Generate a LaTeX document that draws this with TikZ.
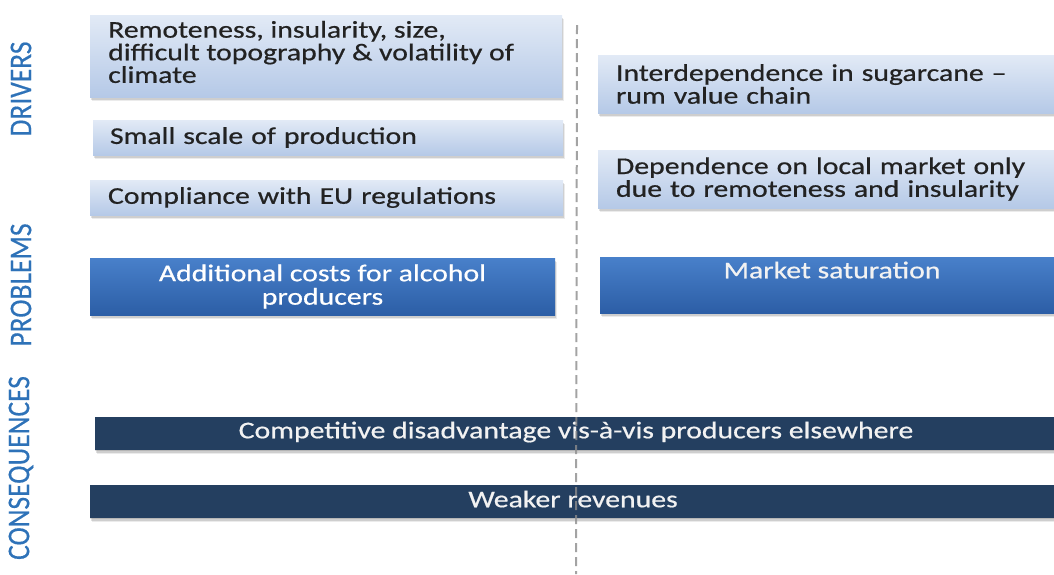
\documentclass[tikz,border=0pt]{standalone}
\usepackage{fontspec}
\setmainfont{Carlito}[FakeStretch=1.24,FakeBold=0.6]
\newfontfamily\labelfont{Carlito}[FakeBold=0.4]
\usetikzlibrary{shadows}
\definecolor{lighttop}{RGB}{226,234,246}
\definecolor{lightbot}{RGB}{181,201,231}
\definecolor{midtop}{RGB}{72,128,202}
\definecolor{midbot}{RGB}{44,94,166}
\definecolor{navy}{RGB}{36,63,96}
\definecolor{lblblue}{RGB}{46,114,184}
\definecolor{txtdark}{RGB}{34,34,34}
\definecolor{dashgray}{RGB}{140,140,140}
\tikzset{
  softshadow/.style={
    general shadow={shadow xshift=2pt, shadow yshift=-4pt, fill=black, opacity=.08},
    general shadow={shadow xshift=1pt, shadow yshift=-2.5pt, fill=black, opacity=.12},
    general shadow={shadow xshift=0pt, shadow yshift=-1pt, fill=black, opacity=.12}},
  lightbox/.style={softshadow, rectangle, inner ysep=0pt, top color=lighttop, bottom color=lightbot,
    draw=none, text=txtdark, align=left, font=\fontsize{24}{22.8}\selectfont},
  plaintext/.style={text=txtdark, align=left, font=\fontsize{24}{22.6}\selectfont, inner sep=0pt},
  midbox/.style={softshadow, rectangle, inner sep=0pt, top color=midtop, bottom color=midbot,
    draw=none, text=white, align=center, font=\fontsize{24}{23.5}\selectfont},
  navybox/.style={softshadow, rectangle, inner sep=0pt, fill=navy, draw=none},
  boxtext/.style={text=white!95!black, font=\fontsize{24}{23}\selectfont, inner sep=0pt},
  sidelabel/.style={rotate=90, text=lblblue, font=\labelfont\fontsize{27.5}{27.5}\selectfont, inner sep=0pt},
  divider/.style={draw=dashgray, line width=2pt, dash pattern=on 9pt off 5pt, opacity=.8}
}
\begin{document}
\begin{tikzpicture}[x=1pt,y=-1pt]
\useasboundingbox (0,0) rectangle (1054,574);
% drivers (left)
\node[lightbox, minimum width=472, minimum height=82] (d1) at (326,56) {};
\node[plaintext, anchor=west] (d1t) at (108,52)
  {Remoteness, insularity, size,\\difficult topography \& volatility of\\climate};
\node[lightbox, minimum width=470, minimum height=35, inner xsep=17, text width=436] (d2) at (328,137.5)
  {Small scale of production};
\node[lightbox, minimum width=473, minimum height=35, inner xsep=18, text width=437] (d3) at (326.5,197.5)
  {Compliance with EU regulations};
% drivers (right)
\node[lightbox, minimum width=472, minimum height=58, inner xsep=18, text width=436] (d4) at (834,84)
  {Interdependence in sugarcane --\\rum value chain};
\node[lightbox, minimum width=472, minimum height=58, inner xsep=18, text width=436] (d5) at (834,179)
  {Dependence on local market only\\due to remoteness and insularity};
% problems
\node[midbox, minimum width=465, minimum height=57] (p1) at (322.5,286.5)
  {Additional costs for alcohol\\producers};
\node[midbox, minimum width=464, minimum height=56] (p2) at (832,285) {};
\node[boxtext] (p2t) at (832,270) {Market saturation};
% consequences
\node[navybox, minimum width=962, minimum height=33] (c1) at (576,433.5) {};
\node[boxtext] (c1t) at (576,432) {Competitive disadvantage vis-à-vis producers elsewhere};
\node[navybox, minimum width=968, minimum height=33] (c2) at (574,501.5) {};
\node[boxtext] (c2t) at (573,499) {Weaker revenues};
% divider
\coordinate (dtop) at (577,25);
\coordinate (dbot) at (576,574);
\draw[divider] (dtop) -- (dbot);
% side labels
\node[sidelabel] (l1) at (21,89) {\scalebox{1}[1.15]{DRIVERS}};
\node[sidelabel] (l2) at (21,285) {\scalebox{1}[1.15]{PROBLEMS}};
\node[sidelabel] (l3) at (21,468) {\scalebox{1}[1.15]{CONSEQUENCES}};
\end{tikzpicture}
\end{document}
